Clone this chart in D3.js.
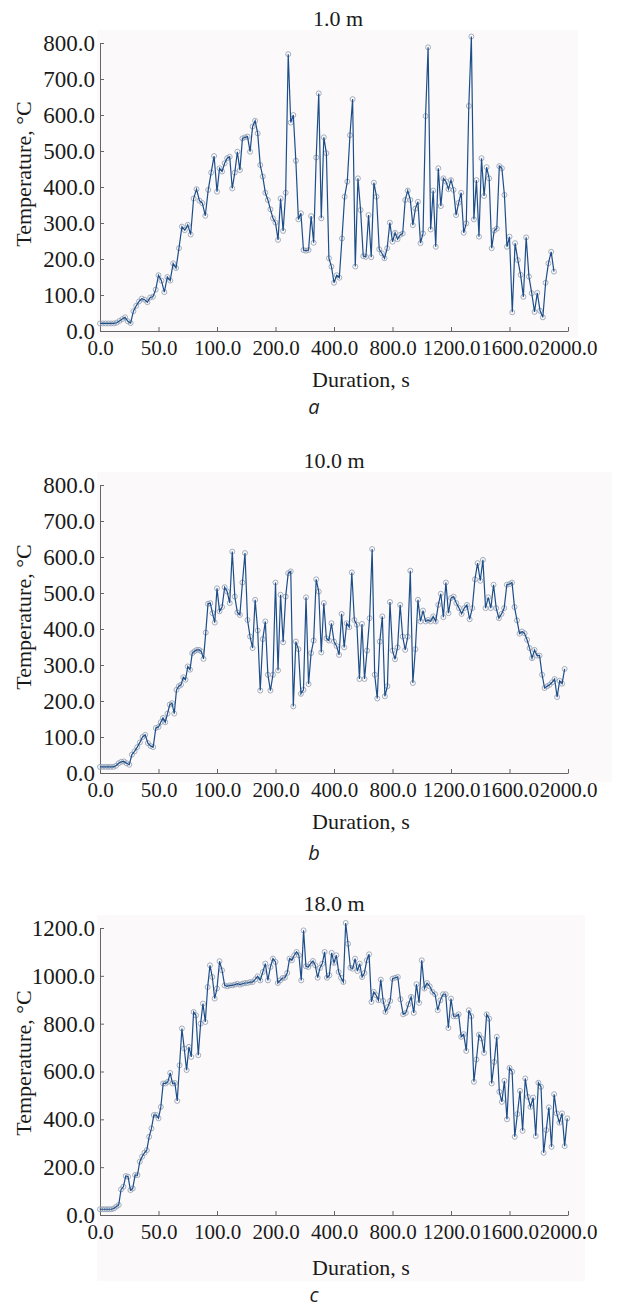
<!DOCTYPE html>
<html>
<head>
<meta charset="utf-8">
<script src="https://cdn.jsdelivr.net/npm/d3@7"></script>
<style>
  body { margin: 0; background: #fff; }
  svg text { font-family: "Liberation Serif", "Times New Roman", serif; fill: #1a1a1a; }
  .axis path, .axis line { stroke: #666; }
  .title, .axis-title { font-size: 22px; }
  .sub-label { font-family: "Open Sans", "Noto Sans", sans-serif !important; font-style: italic; font-size: 20px; fill: #222; }
</style>
</head>
<body>
<div id="chart"></div>
<script>
// x axis is piecewise: every tick gets the same width
let segBounds = [0, 50, 100, 200, 400, 800, 1200, 1600, 2000]
let yTicks800 = [0, 100, 200, 300, 400, 500, 600, 700, 800]
let yTicks1200 = [0, 200, 400, 600, 800, 1000, 1200]

// temperatures, one array per x segment (1.0 m)
let tempA = [
  [21, 21, 21, 21, 21, 21, 23, 28, 33, 38, 27, 22, 55, 70, 82, 90, 87, 80, 93, 95, 115],
  [155, 140, 108, 150, 140, 188, 175, 230, 290, 280, 295, 268, 368, 394, 362, 355, 320, 392, 440, 486],
  [387, 452, 443, 466, 480, 484, 396, 440, 498, 447, 535, 538, 540, 498, 568, 584, 549, 461, 429, 384, 364, 338, 313],
  [301, 253, 368, 278, 384, 769, 579, 600, 473, 310, 327, 225, 223, 225, 319, 245, 482, 660, 313, 538, 494, 202, 179],
  [134, 155, 148, 257, 373, 415, 544, 644, 179, 424, 336, 208, 206, 322, 205, 412, 373, 227, 216, 202, 230, 301],
  [248, 273, 255, 267, 271, 364, 390, 364, 294, 340, 359, 244, 271, 597, 788, 282, 390, 234, 452, 347, 424, 415, 394],
  [419, 392, 322, 356, 384, 273, 299, 625, 818, 310, 419, 262, 480, 375, 455, 424, 230, 279, 284, 458, 452, 378, 234],
  [262, 52, 244, 197, 156, 95, 260, 151, 105, 53, 106, 56, 38, 134, 188, 220, 165]
]
let endA = 1904

// 10.0 m
let tempB = [
  [17, 17, 17, 17, 17, 17, 20, 27, 31, 32, 27, 23, 51, 60, 72, 85, 100, 106, 83, 75, 72, 125],
  [128, 141, 153, 141, 165, 190, 194, 165, 231, 241, 245, 266, 259, 296, 287, 333, 338, 342, 342, 338, 317, 390, 470, 472, 444, 418],
  [513, 449, 461, 516, 504, 472, 615, 490, 446, 439, 529, 611, 425, 379, 347, 481, 396, 229, 372, 421, 273, 229, 273],
  [529, 285, 495, 363, 490, 555, 560, 185, 365, 344, 220, 231, 488, 247, 333, 368, 538, 504, 335, 472, 374, 368, 416],
  [365, 353, 328, 442, 349, 416, 405, 557, 425, 412, 261, 414, 261, 340, 430, 622, 273, 207, 365, 435, 213, 241, 475],
  [340, 316, 349, 467, 379, 342, 379, 562, 250, 344, 481, 421, 451, 421, 425, 421, 435, 421, 467, 498, 433, 529, 444],
  [486, 490, 472, 458, 442, 458, 467, 427, 458, 538, 583, 534, 592, 458, 488, 458, 523, 458, 430, 442, 458, 523],
  [525, 529, 461, 424, 387, 393, 388, 370, 347, 319, 342, 326, 326, 273, 236, 241, 245, 252, 261, 211, 256, 248, 289]
]
let endB = 1977

// 18.0 m
let tempC = [
  [24, 24, 24, 24, 24, 24, 28, 35, 42, 107, 118, 163, 160, 104, 111, 167, 167, 223, 244, 260, 271, 327, 362, 418, 418],
  [404, 452, 550, 550, 557, 594, 550, 552, 477, 626, 780, 696, 606, 703, 661, 849, 835, 668, 800, 884, 807, 953, 1044, 995, 905],
  [947, 1061, 1023, 960, 956, 960, 960, 963, 967, 963, 967, 970, 970, 974, 974, 985, 998, 981, 1016, 1051, 981, 1037, 1072],
  [1058, 970, 981, 991, 992, 1012, 1072, 1065, 1086, 1100, 1086, 981, 1190, 1040, 1037, 1051, 1062, 1044, 992, 1033, 1051, 1100, 992, 1002, 1096],
  [1054, 1086, 1016, 992, 974, 1221, 1134, 1034, 1030, 1072, 1020, 1051, 995, 1012, 1065, 1090, 891, 933, 919, 898, 984, 895, 849, 870, 895],
  [988, 992, 995, 902, 839, 845, 881, 912, 845, 965, 887, 1065, 947, 970, 956, 933, 923, 856, 898, 923, 923, 782],
  [905, 831, 831, 839, 745, 756, 686, 856, 831, 557, 650, 754, 738, 678, 839, 821, 550, 640, 745, 515, 473, 561, 400],
  [615, 599, 327, 422, 519, 352, 571, 494, 452, 491, 330, 553, 536, 260, 355, 450, 285, 505, 425, 386, 425, 288, 404]
]
let endC = 1995

let width = 622
let height = 1309
let xLeft = 100
let xRight = 568

let svg = d3.select('#chart')
  .append('svg')
  .attr('width', width)
  .attr('height', height)

let x = d3.scaleLinear()
  .domain(segBounds)
  .range(segBounds.map((d, i) => xLeft + i * (xRight - xLeft) / (segBounds.length - 1)))

let panels = [
  { title: '1.0 m', label: 'a', temps: tempA, end: endA, ticks: yTicks800, top: 43, bottom: 331, bg: [97, 30, 481, 308], titleX: 338, titleY: 26, durY: 387, labelY: 414, yTitle: 174 },
  { title: '10.0 m', label: 'b', temps: tempB, end: endB, ticks: yTicks800, top: 485, bottom: 773, bg: [97, 472, 515, 310], titleX: 334, titleY: 468, durY: 829, labelY: 860, yTitle: 617 },
  { title: '18.0 m', label: 'c', temps: tempC, end: endC, ticks: yTicks1200, top: 928, bottom: 1215, bg: [97, 915, 488, 366], titleX: 334, titleY: 911, durY: 1275, labelY: 1302, yTitle: 1063 }
]

panels.forEach(p => drawPanel(p))

function toPoints(segs, lastTime) {
  // spread each segment's samples over its own stretch of time
  let pts = []
  segs.forEach((vals, s) => {
    let t0 = segBounds[s]
    let isLast = s === segs.length - 1
    let step = isLast ? (lastTime - t0) / (vals.length - 1) : (segBounds[s + 1] - t0) / vals.length
    vals.forEach((v, i) => pts.push({ t: t0 + i * step, v: v }))
  })
  return pts
}

function drawPanel(p) {
  let data = toPoints(p.temps, p.end)

  let y = d3.scaleLinear()
    .domain([0, d3.max(p.ticks)])
    .range([p.bottom, p.top])

  let g = svg.append('g')

  g.append('rect')
    .attr('x', p.bg[0])
    .attr('y', p.bg[1])
    .attr('width', p.bg[2])
    .attr('height', p.bg[3])
    .attr('fill', '#fcf9fa')

  g.append('g')
    .attr('class', 'axis')
    .attr('transform', `translate(${xLeft},0)`)
    .call(d3.axisLeft(y)
      .tickValues(p.ticks)
      .tickFormat(d3.format('.1f'))
      .tickSizeInner(-4)
      .tickSizeOuter(0)
      .tickPadding(5))
    .attr('font-family', '"Liberation Serif", serif')
    .attr('font-size', 23)

  g.append('g')
    .attr('class', 'axis')
    .attr('transform', `translate(0,${p.bottom})`)
    .call(d3.axisBottom(x)
      .tickValues(segBounds)
      .tickFormat(d3.format('.1f'))
      .tickSizeInner(-4)
      .tickSizeOuter(0)
      .tickPadding(9))
    .attr('font-family', '"Liberation Serif", serif')
    .attr('font-size', 21)

  g.selectAll('circle')
    .data(data)
    .join('circle')
    .attr('cx', d => x(d.t))
    .attr('cy', d => y(d.v))
    .attr('r', 2.5)
    .attr('fill', 'none')
    .attr('stroke', '#8d9cb0')
    .attr('stroke-width', 0.8)

  g.append('path')
    .datum(data)
    .attr('d', d3.line().x(d => x(d.t)).y(d => y(d.v)))
    .attr('fill', 'none')
    .attr('stroke', '#1d4e89')
    .attr('stroke-width', 1.2)

  g.append('text')
    .attr('class', 'title')
    .attr('x', p.titleX)
    .attr('y', p.titleY)
    .attr('text-anchor', 'middle')
    .text(p.title)

  g.append('text')
    .attr('class', 'axis-title')
    .attr('x', 361)
    .attr('y', p.durY)
    .attr('text-anchor', 'middle')
    .text('Duration, s')

  g.append('text')
    .attr('class', 'axis-title')
    .attr('transform', `translate(31,${p.yTitle}) rotate(-90)`)
    .attr('text-anchor', 'middle')
    .text('Temperature, °C')

  g.append('text')
    .attr('class', 'sub-label')
    .attr('x', 314)
    .attr('y', p.labelY)
    .attr('text-anchor', 'middle')
    .text(p.label)
}
</script>
</body>
</html>
